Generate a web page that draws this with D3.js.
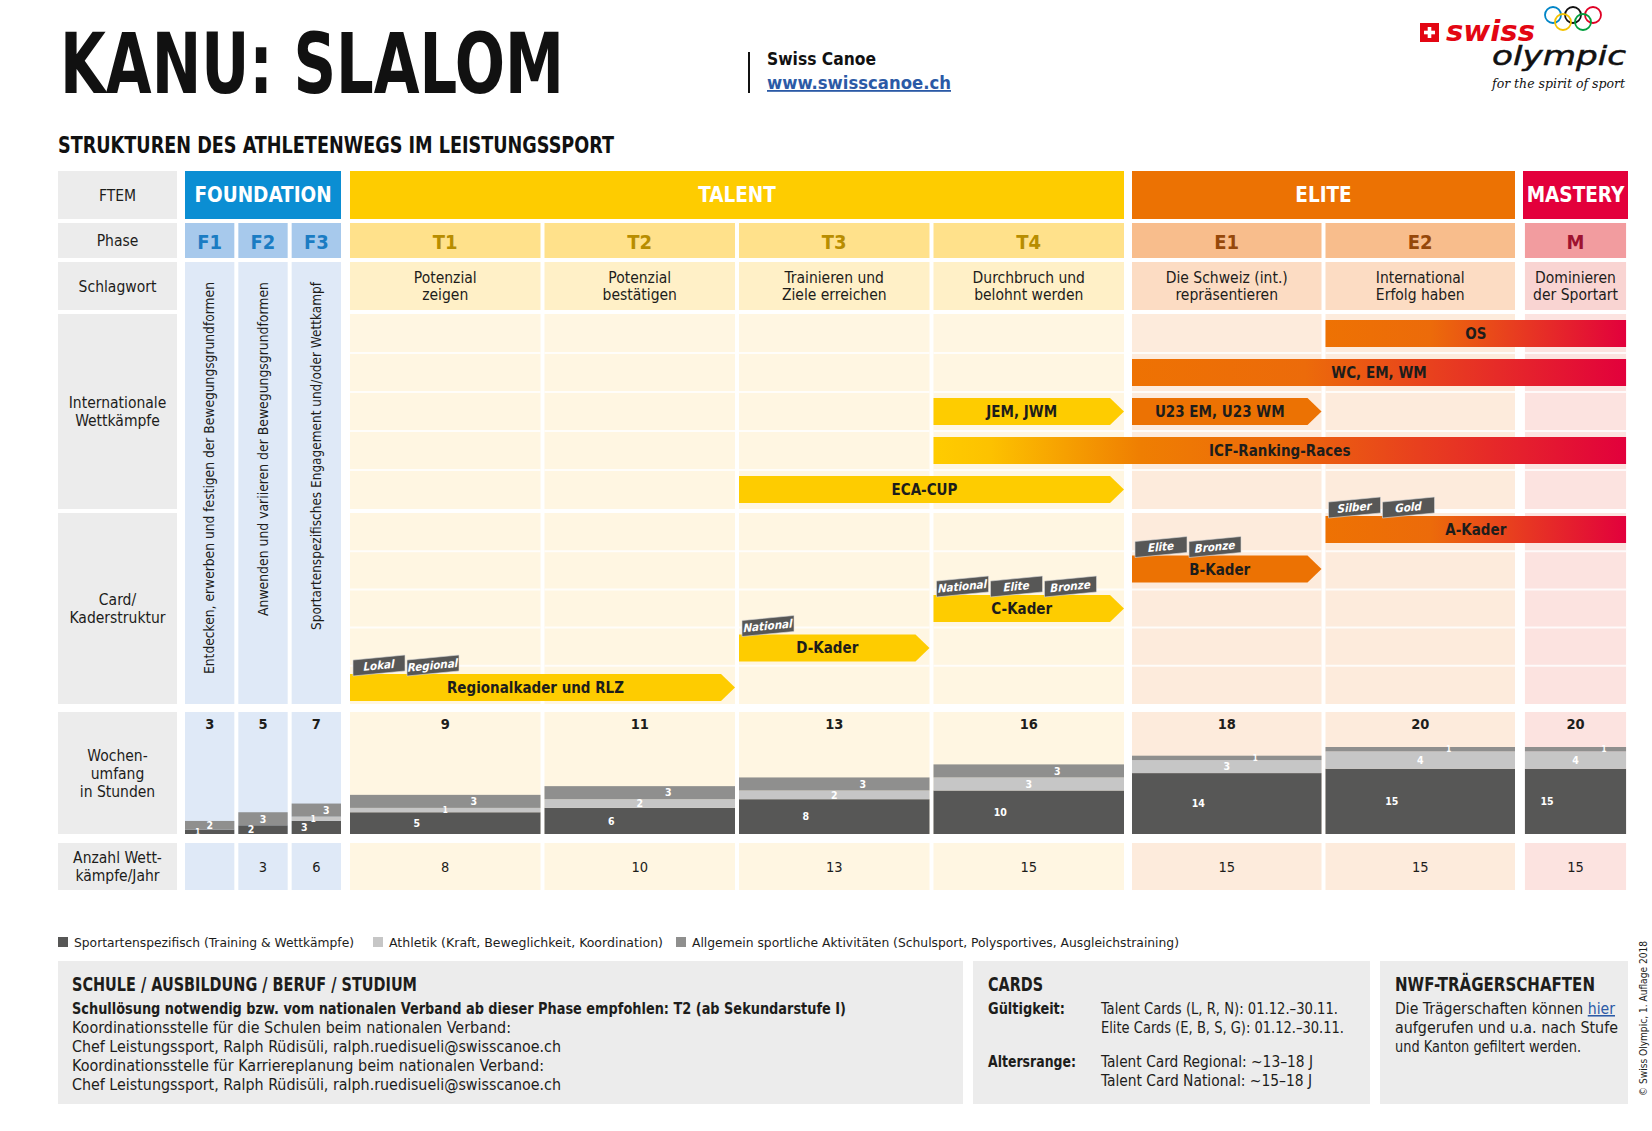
<!DOCTYPE html>
<html><head><meta charset="utf-8">
<script src="https://cdn.jsdelivr.net/npm/d3@7"></script>
<style>
html,body{margin:0;padding:0;background:#fff;}
svg{display:block;}
</style></head><body>
<svg id="c" width="1652" height="1131"></svg>
<script>
// ---------------- DATA ----------------
const groupNames = ["FOUNDATION", "TALENT", "ELITE", "MASTERY"];
const phases = ["F1", "F2", "F3", "T1", "T2", "T3", "T4", "E1", "E2", "M"];
const phaseGroup = ["FOUNDATION", "FOUNDATION", "FOUNDATION", "TALENT", "TALENT", "TALENT", "TALENT", "ELITE", "ELITE", "MASTERY"];
const rowLabels = ["FTEM", "Phase", "Schlagwort", "Internationale\nWettkämpfe", "Card/\nKaderstruktur", "Wochen-\numfang\nin Stunden", "Anzahl Wett-\nkämpfe/Jahr"];
const keywords = [
  "Entdecken, erwerben und festigen der Bewegungsgrundformen",
  "Anwenden und variieren der Bewegungsgrundformen",
  "Sportartenspezifisches Engagement und/oder Wettkampf",
  "Potenzial\nzeigen", "Potenzial\nbestätigen", "Trainieren und\nZiele erreichen",
  "Durchbruch und\nbelohnt werden", "Die Schweiz (int.)\nrepräsentieren",
  "International\nErfolg haben", "Dominieren\nder Sportart"];
const hoursSport     = [1, 2, 3, 5, 6, 8, 10, 14, 15, 15];
const hoursAthletik  = [0, 0, 1, 1, 2, 2, 3, 3, 4, 4];
const hoursAllgemein = [2, 3, 3, 3, 3, 3, 3, 1, 1, 1];
const hoursTotal     = [3, 5, 7, 9, 11, 13, 16, 18, 20, 20];
const competitions   = [null, 3, 6, 8, 10, 13, 15, 15, 15, 15];
const hourKeys = ["sport", "athletik", "allgemein"];
const legendLabels = [
  "Sportartenspezifisch (Training & Wettkämpfe)",
  "Athletik (Kraft, Beweglichkeit, Koordination)",
  "Allgemein sportliche Aktivitäten (Schulsport, Polysportives, Ausgleichstraining)"];
const intlEvents = [
  {label: "OS", from: "E2", to: "M", lane: 0},
  {label: "WC, EM, WM", from: "E1", to: "M", lane: 1},
  {label: "JEM, JWM", from: "T4", to: "T4", lane: 2},
  {label: "U23 EM, U23 WM", from: "E1", to: "E1", lane: 2},
  {label: "ICF-Ranking-Races", from: "T4", to: "M", lane: 3},
  {label: "ECA-CUP", from: "T3", to: "T4", lane: 4}];
const kaderEvents = [
  {label: "A-Kader", from: "E2", to: "M", lane: 0, tags: ["Silber", "Gold"]},
  {label: "B-Kader", from: "E1", to: "E1", lane: 1, tags: ["Elite", "Bronze"]},
  {label: "C-Kader", from: "T4", to: "T4", lane: 2, tags: ["National", "Elite", "Bronze"]},
  {label: "D-Kader", from: "T3", to: "T3", lane: 3, tags: ["National"]},
  {label: "Regionalkader und RLZ", from: "T1", to: "T2", lane: 4, tags: ["Lokal", "Regional"]}];
const lanes = [0, 1, 2, 3, 4];

// ---------------- LAYOUT / STYLE ----------------
const SANS = "'DejaVu Sans Condensed','Liberation Sans Narrow','DejaVu Sans',sans-serif";
const INK = "#1d1d1b";
const groupStyle = {
  FOUNDATION: {head: "#0b8ed3", phase: "#a7c9ec", phaseText: "#1b7cc3", schlag: "#dfe9f7", body: "#dfe9f7"},
  TALENT:     {head: "#fecc00", phase: "#ffe18b", phaseText: "#b88d00", schlag: "#fff0c7", body: "#fff6e2"},
  ELITE:      {head: "#ec7203", phase: "#f8bd8c", phaseText: "#96480a", schlag: "#fcdcc3", body: "#fdebdc"},
  MASTERY:    {head: "#e3003b", phase: "#f29c9f", phaseText: "#9f1230", schlag: "#f9d4d2", body: "#fce3e0"}};
const groupRanges = {FOUNDATION: [185, 341], TALENT: [350, 1124], ELITE: [1132, 1515], MASTERY: [1523, 1628]};
const rows = {ftem: [171, 219], phase: [223, 258], schlag: [262, 310], intl: [314, 509], card: [513, 704], hours: [712, 834], comp: [843, 890]};
const labelCol = [58, 177];
const hourColors = {sport: "#575756", athletik: "#c6c6c6", allgemein: "#8f8f8e"};
const fTextLen = [392, 334, 348];

const svg = d3.select("#c");
const defs = svg.append("defs");
const groupOf = p => phaseGroup[phases.indexOf(p)];

const bandScales = {};
groupNames.forEach(g => {
  const ps = phases.filter((p, i) => phaseGroup[i] === g);
  const r = groupRanges[g];
  const step = (r[1] - r[0] + 4) / ps.length;
  bandScales[g] = d3.scaleBand().domain(ps).range(r).paddingInner(4 / step).paddingOuter(0);
});
const px = p => bandScales[groupOf(p)](p);
const pw = p => bandScales[groupOf(p)].bandwidth();
const pr = p => px(p) + pw(p);
const pc = p => px(p) + pw(p) / 2;

function mtext(g, x, yc, str, size, lh, attrs) {
  const lines = str.split("\n");
  const t = g.append("text").attr("x", x).attr("font-family", SANS).attr("font-size", size)
    .attr("text-anchor", "middle").attr("fill", INK);
  Object.entries(attrs || {}).forEach(([k, v]) => t.attr(k, v));
  const y0 = yc - (lines.length - 1) * lh / 2 + size * 0.36;
  lines.forEach((l, i) => t.append("tspan").attr("x", x).attr("y", y0 + i * lh).text(l));
  return t;
}

// ---------------- TITLE AREA ----------------
svg.append("text").attr("x", 60).attr("y", 93).attr("font-family", SANS).attr("font-weight", "bold")
  .attr("font-size", 84).attr("fill", "#111").attr("textLength", 504).attr("lengthAdjust", "spacingAndGlyphs")
  .text("KANU: SLALOM");
svg.append("text").attr("x", 58).attr("y", 153).attr("font-family", SANS).attr("font-weight", "bold")
  .attr("font-size", 23).attr("fill", "#111").attr("textLength", 556).attr("lengthAdjust", "spacingAndGlyphs")
  .text("STRUKTUREN DES ATHLETENWEGS IM LEISTUNGSSPORT");
svg.append("line").attr("x1", 749).attr("x2", 749).attr("y1", 52).attr("y2", 93).attr("stroke", "#111").attr("stroke-width", 2);
svg.append("text").attr("x", 767).attr("y", 65).attr("font-family", SANS).attr("font-weight", "bold")
  .attr("font-size", 18).attr("fill", "#111").attr("textLength", 109).attr("lengthAdjust", "spacingAndGlyphs").text("Swiss Canoe");
svg.append("text").attr("x", 767).attr("y", 89).attr("font-family", SANS).attr("font-weight", "bold")
  .attr("font-size", 18).attr("fill", "#2b5aa6").attr("text-decoration", "underline")
  .attr("textLength", 184).attr("lengthAdjust", "spacingAndGlyphs").text("www.swisscanoe.ch");

// logo
const logo = svg.append("g");
logo.append("rect").attr("x", 1420).attr("y", 23).attr("width", 19).attr("height", 19).attr("fill", "#e30613");
logo.append("rect").attr("x", 1424).attr("y", 30.7).attr("width", 11).attr("height", 3.6).attr("fill", "#fff");
logo.append("rect").attr("x", 1427.7).attr("y", 27).attr("width", 3.6).attr("height", 11).attr("fill", "#fff");
logo.append("text").attr("x", 1446).attr("y", 41).attr("font-family", "'DejaVu Sans',sans-serif").attr("font-weight", "bold")
  .attr("font-style", "italic").attr("font-size", 29).attr("fill", "#e30613").attr("textLength", 89)
  .attr("lengthAdjust", "spacingAndGlyphs").text("swiss");
[[1553, 15, "#0085c7"], [1573, 15, "#111"], [1593, 15, "#df0024"], [1563, 22, "#f4c300"], [1583, 22, "#009f3d"]]
  .forEach(([cx, cy, c]) => logo.append("circle").attr("cx", cx).attr("cy", cy).attr("r", 8)
    .attr("fill", "none").attr("stroke", c).attr("stroke-width", 1.8));
logo.append("text").attr("x", 1492).attr("y", 65).attr("font-family", "'DejaVu Sans',sans-serif")
  .attr("font-style", "italic").attr("font-size", 27).attr("fill", "#111").attr("stroke", "#111").attr("stroke-width", 0.5)
  .attr("textLength", 134).attr("lengthAdjust", "spacingAndGlyphs").text("olympic");
logo.append("text").attr("x", 1492).attr("y", 88).attr("font-family", "'DejaVu Serif',serif")
  .attr("font-style", "italic").attr("font-size", 13).attr("fill", "#111").attr("textLength", 133)
  .attr("lengthAdjust", "spacingAndGlyphs").text("for the spirit of sport");

// ---------------- GRID ----------------
const grid = svg.append("g");
const rowKeys = ["ftem", "phase", "schlag", "intl", "card", "hours", "comp"];
rowKeys.forEach((k, i) => {
  const r = rows[k];
  grid.append("rect").attr("x", labelCol[0]).attr("y", r[0]).attr("width", labelCol[1] - labelCol[0])
    .attr("height", r[1] - r[0]).attr("fill", "#ececec");
  mtext(grid, (labelCol[0] + labelCol[1]) / 2, (r[0] + r[1]) / 2, rowLabels[i], 15.5, 18);
});

// FTEM header
groupNames.forEach(g => {
  const r = groupRanges[g];
  grid.append("rect").attr("x", r[0]).attr("y", rows.ftem[0]).attr("width", r[1] - r[0])
    .attr("height", rows.ftem[1] - rows.ftem[0]).attr("fill", groupStyle[g].head);
  mtext(grid, (r[0] + r[1]) / 2, (rows.ftem[0] + rows.ftem[1]) / 2, g, 20.5, 20,
    {"fill": "#fff", "font-weight": "bold"});
});

// phase row, schlagwort, bodies
phases.forEach((p, i) => {
  const st = groupStyle[groupOf(p)];
  const x = px(p), w = pw(p);
  grid.append("rect").attr("x", x).attr("y", rows.phase[0]).attr("width", w)
    .attr("height", rows.phase[1] - rows.phase[0]).attr("fill", st.phase);
  mtext(grid, x + w / 2, (rows.phase[0] + rows.phase[1]) / 2 + 1, p, 20, 20,
    {"fill": st.phaseText, "font-weight": "bold"});
  if (groupOf(p) === "FOUNDATION") {
    grid.append("rect").attr("x", x).attr("y", rows.schlag[0]).attr("width", w)
      .attr("height", rows.card[1] - rows.schlag[0]).attr("fill", st.body);
    grid.append("text").attr("transform", `translate(${x + w / 2 + 4.5},${rows.schlag[0] + 20}) rotate(-90)`)
      .attr("text-anchor", "end").attr("font-family", SANS).attr("font-size", 13.5).attr("fill", INK)
      .attr("textLength", fTextLen[i]).attr("lengthAdjust", "spacingAndGlyphs")
      .text(keywords[i]);
  } else {
    grid.append("rect").attr("x", x).attr("y", rows.schlag[0]).attr("width", w)
      .attr("height", rows.schlag[1] - rows.schlag[0]).attr("fill", st.schlag);
    mtext(grid, x + w / 2, (rows.schlag[0] + rows.schlag[1]) / 2, keywords[i], 15.5, 17.5);
    ["intl", "card"].forEach(k => {
      grid.append("rect").attr("x", x).attr("y", rows[k][0]).attr("width", w)
        .attr("height", rows[k][1] - rows[k][0]).attr("fill", st.body);
    });
  }
  ["hours", "comp"].forEach(k => {
    grid.append("rect").attr("x", x).attr("y", rows[k][0]).attr("width", w)
      .attr("height", rows[k][1] - rows[k][0]).attr("fill", st.body);
  });
});

// lane scales
const yIntl = d3.scaleBand().domain(lanes).range(rows.intl).paddingInner(0.3077).paddingOuter(0.154);
const yCard = d3.scaleBand().domain(lanes).range(rows.card).paddingInner(0.3165).paddingOuter(0.076);
const laneLines = svg.append("g");
phases.filter(p => groupOf(p) !== "FOUNDATION").forEach(p => {
  ["intl", "card"].forEach(k => {
    const r = rows[k];
    const h = (r[1] - r[0]) / lanes.length;
    lanes.slice(1).forEach(l => {
      laneLines.append("line").attr("x1", px(p)).attr("x2", pr(p)).attr("y1", r[0] + l * h).attr("y2", r[0] + l * h)
        .attr("stroke", "#fff").attr("stroke-width", 2).attr("opacity", 0.85);
    });
  });
});

// gradients
function grad(id, stops) {
  const lg = defs.append("linearGradient").attr("id", id).attr("x1", 0).attr("x2", 1).attr("y1", 0).attr("y2", 0);
  stops.forEach(([o, c]) => lg.append("stop").attr("offset", o).attr("stop-color", c));
}
grad("orangeRed", [[0, "#ee7203"], [0.35, "#ec6b0a"], [1, "#e2003c"]]);
grad("yellowRed", [[0, "#ffcc00"], [0.08, "#fdc200"], [0.3, "#ef7e02"], [0.5, "#ec6a0a"], [1, "#e2003c"]]);

const TIP = 14;
function drawBars(events, yScale) {
  const g = svg.append("g");
  events.forEach(e => {
    const x0 = px(e.from), x1 = pr(e.to), y = yScale(e.lane), h = yScale.bandwidth();
    let fill, arrow = e.to !== "M";
    if (!arrow) fill = groupOf(e.from) === "TALENT" ? "url(#yellowRed)" : "url(#orangeRed)";
    else fill = groupStyle[groupOf(e.to)].head;
    const pts = arrow
      ? [[x0, y], [x1 - TIP, y], [x1, y + h / 2], [x1 - TIP, y + h], [x0, y + h]]
      : [[x0, y], [x1, y], [x1, y + h], [x0, y + h]];
    g.append("polygon").attr("points", pts.map(d => d.join(",")).join(" ")).attr("fill", fill);
    const cx = arrow ? (x0 + x1 - TIP) / 2 : (x0 + x1) / 2;
    g.append("text").attr("x", cx).attr("y", y + h / 2 + 5.5).attr("text-anchor", "middle")
      .attr("font-family", SANS).attr("font-weight", "bold").attr("font-size", 15).attr("fill", INK)
      .text(e.label);
    (e.tags || []).forEach((t, j) => {
      const tg = g.append("g").attr("transform", `translate(${x0 + 3 + j * 54},${y + 2}) skewY(-5.5)`);
      tg.append("rect").attr("x", 0).attr("y", -16).attr("width", 52).attr("height", 16)
        .attr("fill", "#575756").attr("stroke", "#d9d9d9").attr("stroke-width", 0.6);
      tg.append("text").attr("x", 26).attr("y", -4.2).attr("text-anchor", "middle").attr("font-family", SANS)
        .attr("font-style", "italic").attr("font-weight", "bold").attr("font-size", 11.5).attr("fill", "#fff").text(t);
    });
  });
}
drawBars(intlEvents, yIntl);
drawBars(kaderEvents, yCard);

// ---------------- HOURS (stacked) ----------------
const yH = d3.scaleLinear().domain([0, 20]).range([rows.hours[1], rows.hours[1] - 87]);
const hourTable = phases.map((p, i) => ({phase: p, sport: hoursSport[i], athletik: hoursAthletik[i], allgemein: hoursAllgemein[i]}));
const stacked = d3.stack().keys(hourKeys)(hourTable);
const hg = svg.append("g");
stacked.forEach(layer => {
  layer.forEach(d => {
    const v = d[1] - d[0];
    if (v <= 0) return;
    const p = d.data.phase;
    hg.append("rect").attr("x", px(p)).attr("y", yH(d[1])).attr("width", pw(p))
      .attr("height", yH(d[0]) - yH(d[1])).attr("fill", hourColors[layer.key]);
  });
});
stacked.forEach((layer, li) => {
  layer.forEach(d => {
    const v = d[1] - d[0];
    if (v <= 0) return;
    const p = d.data.phase;
    const narrow = pw(p) < 80;
    const hasLight = d.data.athletik > 0;
    const off = narrow ? [-12, -3, hasLight ? 10 : 0][li] : [-28.5, 0, 28.5][li];
    const segH = yH(d[0]) - yH(d[1]);
    hg.append("text").attr("x", pc(p) + off).attr("y", (yH(d[0]) + yH(d[1])) / 2 + Math.min(3.8, segH / 2 + 1))
      .attr("text-anchor", "middle").attr("font-family", SANS).attr("font-weight", "bold")
      .attr("font-size", segH < 6 ? 8 : 10.5).attr("fill", "#fff").text(v);
  });
});
phases.forEach((p, i) => {
  hg.append("text").attr("x", pc(p)).attr("y", 729).attr("text-anchor", "middle").attr("font-family", SANS)
    .attr("font-weight", "bold").attr("font-size", 14.5).attr("fill", INK).text(hoursTotal[i]);
  if (competitions[i] != null)
    hg.append("text").attr("x", pc(p)).attr("y", 872).attr("text-anchor", "middle").attr("font-family", SANS)
      .attr("font-size", 14.5).attr("fill", INK).text(competitions[i]);
});

// ---------------- LEGEND ----------------
const lgX = [58, 373, 676], lgW = [280, 274, 487];
legendLabels.forEach((l, i) => {
  svg.append("rect").attr("x", lgX[i]).attr("y", 937).attr("width", 10).attr("height", 10).attr("fill", hourColors[hourKeys[i]]);
  svg.append("text").attr("x", lgX[i] + 16).attr("y", 946.5).attr("font-family", SANS).attr("font-size", 13)
    .attr("fill", INK).attr("textLength", lgW[i]).attr("lengthAdjust", "spacingAndGlyphs").text(l);
});

// ---------------- BOTTOM BOXES ----------------
const boxes = [[58, 963], [973, 1370], [1380, 1628]];
boxes.forEach(b => svg.append("rect").attr("x", b[0]).attr("y", 961).attr("width", b[1] - b[0]).attr("height", 143).attr("fill", "#ececec"));
function t(x, y, s, size, w, bold, fill) {
  const e = svg.append("text").attr("x", x).attr("y", y).attr("font-family", SANS).attr("font-size", size)
    .attr("fill", fill || INK).attr("font-weight", bold ? "bold" : "normal");
  if (w) e.attr("textLength", w).attr("lengthAdjust", "spacingAndGlyphs");
  e.text(s);
  return e;
}
t(72, 991, "SCHULE / AUSBILDUNG / BERUF / STUDIUM", 19, 345, true);
t(72, 1014, "Schullösung notwendig bzw. vom nationalen Verband ab dieser Phase empfohlen: T2 (ab Sekundarstufe I)", 15.5, 774, true);
t(72, 1033, "Koordinationsstelle für die Schulen beim nationalen Verband:", 15.5, 439);
t(72, 1052, "Chef Leistungssport, Ralph Rüdisüli, ralph.ruedisueli@swisscanoe.ch", 15.5, 489);
t(72, 1071, "Koordinationsstelle für Karriereplanung beim nationalen Verband:", 15.5, 472);
t(72, 1090, "Chef Leistungssport, Ralph Rüdisüli, ralph.ruedisueli@swisscanoe.ch", 15.5, 489);

t(988, 991, "CARDS", 19, 55, true);
t(988, 1014, "Gültigkeit:", 15.5, 77, true);
t(1101, 1014, "Talent Cards (L, R, N): 01.12.–30.11.", 15.5, 237);
t(1101, 1033, "Elite Cards (E, B, S, G): 01.12.–30.11.", 15.5, 243);
t(988, 1067, "Altersrange:", 15.5, 88, true);
t(1101, 1067, "Talent Card Regional: ~13–18 J", 15.5, 212);
t(1101, 1086, "Talent Card National: ~15–18 J", 15.5, 211);

t(1395, 991, "NWF-TRÄGERSCHAFTEN", 19, 200, true);
const hier = t(1395, 1014, "", 15.5, 220);
hier.append("tspan").text("Die Trägerschaften können ");
hier.append("tspan").attr("fill", "#2b5aa6").attr("text-decoration", "underline").text("hier");
t(1395, 1033, "aufgerufen und u.a. nach Stufe", 15.5, 223);
t(1395, 1052, "und Kanton gefiltert werden.", 15.5, 186);

svg.append("text").attr("transform", "translate(1647,1096) rotate(-90)").attr("font-family", SANS)
  .attr("font-size", 10).attr("fill", INK).attr("textLength", 155).attr("lengthAdjust", "spacingAndGlyphs")
  .text("© Swiss Olympic, 1. Auflage 2018");
</script>
</body></html>
